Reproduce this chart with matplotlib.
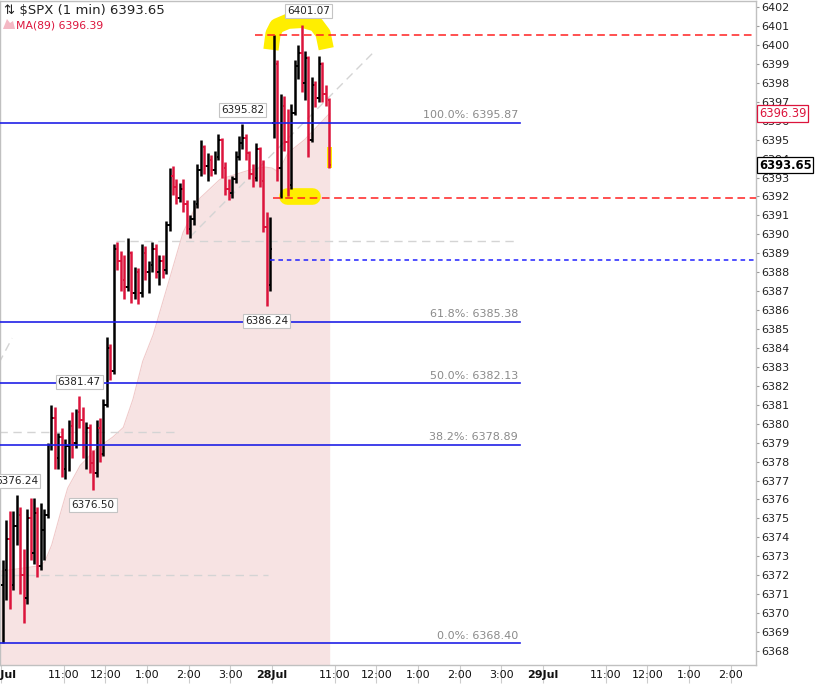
import matplotlib.pyplot as plt
import numpy as np
from matplotlib.patches import Polygon, Rectangle

# ---------------- data ----------------
# 25 Jul, 5-minute bars from the open
day1_open = [6371.5, 6372.3, 6373.9, 6371.5, 6374.6, 6375.2, 6372.0, 6370.8, 6375.0, 6373.2,
             6375.3, 6372.5, 6374.4, 6375.2, 6378.9, 6380.3, 6378.2, 6379.3, 6377.6, 6378.8,
             6379.9, 6379.0, 6380.6, 6380.2, 6378.9, 6379.8, 6377.9, 6377.4, 6379.8, 6378.4,
             6381.0, 6384.0, 6382.8, 6389.2, 6388.6, 6387.6, 6387.2, 6389.0, 6386.9, 6388.0,
             6386.9, 6389.0, 6388.0, 6388.4, 6389.2, 6388.0, 6388.6, 6388.1, 6390.5, 6393.1,
             6392.5, 6391.9, 6392.4, 6391.6, 6390.3, 6390.8, 6391.6, 6393.4, 6394.6, 6393.6,
             6393.9, 6393.4, 6394.1, 6395.0, 6393.5, 6392.4, 6392.2, 6392.9, 6394.1, 6394.8,
             6395.1, 6394.3, 6393.2, 6393.0, 6394.5, 6392.8, 6390.4, 6387.3]
day1_high = [6372.8, 6374.9, 6375.4, 6375.4, 6376.24, 6375.6, 6373.4, 6375.5, 6376.1, 6376.1,
             6375.6, 6375.8, 6375.5, 6379.0, 6381.0, 6380.9, 6379.5, 6379.8, 6379.2, 6380.2,
             6380.6, 6380.8, 6381.47, 6380.9, 6380.1, 6380.0, 6378.6, 6380.2, 6380.3, 6381.3,
             6384.6, 6384.2, 6389.5, 6389.6, 6389.1, 6388.9, 6389.8, 6389.1, 6388.3, 6388.2,
             6389.5, 6389.4, 6388.6, 6389.6, 6389.5, 6388.9, 6388.9, 6390.7, 6393.5, 6393.6,
             6392.9, 6392.7, 6392.9, 6391.8, 6391.0, 6391.8, 6393.7, 6395.0, 6394.7, 6394.3,
             6394.2, 6394.4, 6395.3, 6395.1, 6393.8, 6392.9, 6393.1, 6394.4, 6395.2, 6395.82,
             6395.3, 6394.4, 6393.7, 6394.8, 6394.6, 6393.9, 6391.2, 6390.9]
day1_low = [6368.4, 6370.7, 6370.2, 6371.2, 6373.6, 6371.0, 6369.5, 6370.5, 6372.8, 6372.6,
            6371.9, 6372.3, 6372.8, 6375.0, 6378.6, 6377.6, 6377.6, 6377.2, 6377.1, 6377.5,
            6378.2, 6378.7, 6379.8, 6378.2, 6377.6, 6377.4, 6376.5, 6377.2, 6378.0, 6378.3,
            6380.9, 6382.3, 6382.6, 6388.1, 6387.0, 6386.6, 6387.0, 6386.4, 6386.6, 6386.3,
            6386.7, 6387.6, 6386.9, 6388.0, 6387.7, 6387.3, 6387.7, 6387.9, 6390.2, 6392.1,
            6391.6, 6391.7, 6391.2, 6390.0, 6389.8, 6390.5, 6391.4, 6393.1, 6393.2, 6392.8,
            6393.1, 6393.2, 6393.9, 6393.0, 6392.1, 6391.8, 6391.9, 6392.7, 6393.9, 6394.5,
            6393.9, 6392.9, 6392.5, 6392.8, 6392.5, 6390.1, 6386.24, 6387.0]
day1_close = [6372.3, 6373.9, 6371.5, 6374.6, 6375.2, 6372.0, 6370.8, 6375.0, 6373.2, 6375.3,
              6372.5, 6374.4, 6375.2, 6378.9, 6380.3, 6378.2, 6379.3, 6377.6, 6378.8, 6379.9,
              6379.0, 6380.6, 6380.2, 6378.9, 6379.8, 6377.9, 6377.4, 6379.8, 6378.4, 6381.0,
              6384.0, 6382.8, 6389.2, 6388.6, 6387.6, 6387.2, 6389.0, 6386.9, 6388.0, 6386.9,
              6389.0, 6388.0, 6388.4, 6389.2, 6388.0, 6388.6, 6388.1, 6390.5, 6393.1, 6392.5,
              6391.9, 6392.4, 6391.6, 6390.3, 6390.8, 6391.6, 6393.4, 6394.6, 6393.6, 6393.9,
              6393.4, 6394.1, 6395.0, 6393.5, 6392.4, 6392.2, 6392.9, 6394.1, 6394.8, 6395.1,
              6394.3, 6393.2, 6393.0, 6394.5, 6392.8, 6390.4, 6387.3, 6389.2]

# 28 Jul, 5-minute bars from the open
day2_open = [6395.9, 6399.0, 6393.5, 6396.8, 6394.9, 6392.6, 6396.4, 6398.9, 6399.6, 6398.0,
             6399.3, 6395.0, 6397.9, 6397.2, 6399.0, 6397.4, 6397.1]
day2_high = [6400.55, 6399.2, 6397.4, 6397.3, 6396.6, 6396.9, 6399.2, 6400.0, 6401.07, 6399.7,
             6399.4, 6398.3, 6398.1, 6399.4, 6399.1, 6397.9, 6397.2]
day2_low = [6395.1, 6392.8, 6391.92, 6394.4, 6392.0, 6392.4, 6396.3, 6398.2, 6397.5, 6397.1,
            6394.1, 6394.9, 6396.7, 6397.0, 6397.0, 6396.8, 6393.5]
day2_close = [6399.0, 6393.5, 6396.8, 6394.9, 6392.6, 6396.4, 6398.9, 6399.6, 6398.0, 6399.3,
              6395.0, 6397.9, 6397.2, 6399.0, 6397.4, 6397.1, 6393.65]

# MA(89) curve, trading minute -> value
ma_t = [-3, 56, 63, 73, 85, 96, 114, 138, 161, 176, 190, 204, 219, 239, 262, 286,
        315, 358, 380, 390, 399, 413, 437, 473]
ma_val = [6372.2, 6372.5, 6372.7, 6373.6, 6375.2, 6376.6, 6377.8, 6378.7, 6379.3, 6379.8,
          6381.3, 6383.3, 6384.7, 6387.2, 6390.1, 6391.9, 6392.9, 6393.4, 6393.55, 6393.5,
          6393.3, 6394.3, 6395.0, 6396.39]

fib_levels = [6395.87, 6385.38, 6382.13, 6378.89, 6368.40]
fib_names = ['100.0%', '61.8%', '50.0%', '38.2%', '0.0%']

# x ticks in trading minutes (390 per session)
tick_t = [0, 90, 150, 210, 270, 330, 390, 480, 540, 600, 660, 720, 780, 870, 930, 990, 1050]
tick_labels = ['25Jul', '11:00', '12:00', '1:00', '2:00', '3:00', '28Jul', '11:00', '12:00',
               '1:00', '2:00', '3:00', '29Jul', '11:00', '12:00', '1:00', '2:00']

# marked highs / lows
mark_t = [442.5, 347.5, 382.5, 112.5, 22.5, 132.5]
mark_p = [6401.07, 6395.82, 6386.24, 6381.47, 6376.24, 6376.50]
mark_up = [True, True, False, True, True, False]

last_price = 6393.65
ma_last = 6396.39

# ---------------- figure ----------------
RED = '#dc143c'
BLUE = '#2020e6'
fig = plt.figure(figsize=(8.18, 6.87), dpi=100)
ax = fig.add_axes([0, 22 / 687, 756 / 818, 664 / 687])

xmin, xmax = -1.44, 1086.5
ymin, ymax = 6367.26, 6402.32
ax.set_xlim(xmin, xmax)
ax.set_ylim(ymin, ymax)

# MA area
ax.fill_between(ma_t, ma_val, ymin, color='#f7e3e3', lw=0, zorder=1)
ax.plot(ma_t, ma_val, color='#f0caca', lw=0.8, zorder=1.1)

# yellow highlights
ax.plot([388.5, 391.5, 397.0, 413.0, 434.6, 453.3, 463.5, 468.0],
        [6399.75, 6400.6, 6401.0, 6401.25, 6401.3, 6401.1, 6400.6, 6399.8],
        color='#ffee00', lw=11, solid_capstyle='butt', solid_joinstyle='round', zorder=1.5)
ax.plot([411, 447], [6392.05, 6392.05], color='#ffee00', lw=12,
        solid_capstyle='round', zorder=1.5)
ax.add_patch(Rectangle((469, 6393.5), 8, 1.1, color='#ffee00', lw=0, zorder=1.5))

# grey dashed drawings
grey = dict(color='#d4d4d4', lw=1, ls=(0, (6, 4)), zorder=2)
ax.plot([165, 740], [6389.65, 6389.65], **grey)
ax.plot([-3, 255], [6379.56, 6379.56], **grey)
ax.plot([-3, 384], [6372.0, 6372.0], **grey)
ax.plot([272, 535], [6389.86, 6399.57], **grey)
ax.plot([-3, 16], [6383.2, 6384.52], **grey)

# bars
o = np.array(day1_open + day2_open)
h = np.array(day1_high + day2_high)
l = np.array(day1_low + day2_low)
c = np.array(day1_close + day2_close)
t = np.concatenate([np.arange(len(day1_open)) * 5 + 2.5,
                    390 + np.arange(len(day2_open)) * 5 + 2.5])
cols = np.where(c >= o, 'black', RED)
ax.vlines(t, l, h, colors=cols, lw=1.8, zorder=3)
ax.hlines(o, t - 2.3, t, colors=cols, lw=1.4, zorder=3)
ax.hlines(c, t, t + 2.3, colors=cols, lw=1.4, zorder=3)

# fib lines
for lev, name in zip(fib_levels, fib_names):
    ax.plot([xmin, 747], [lev, lev], color=BLUE, lw=1.2, zorder=4)
    ax.annotate(f'{name}: {lev:.2f}', (744, lev), xytext=(0, 2), textcoords='offset points',
                ha='right', va='bottom', fontsize=8, color='#8a8a8a', zorder=5)

# red / blue dashed levels
ax.plot([365, xmax], [6400.55, 6400.55], color='#ff2020', lw=1.1, ls=(0, (5, 3)), zorder=4)
ax.plot([391, xmax], [6391.92, 6391.92], color='#ff2020', lw=1.1, ls=(0, (5, 3)), zorder=4)
ax.plot([387, xmax], [6388.64, 6388.64], color='#2020ff', lw=1.1, ls=(0, (3, 2.5)), zorder=4)

# high / low labels
for mt, mp, up in zip(mark_t, mark_p, mark_up):
    ax.annotate(f'{mp:.2f}', (mt, mp), xytext=(0, 10 if up else -11), textcoords='offset points',
                ha='center', va='center', fontsize=7.5, color='#222222', zorder=6,
                bbox=dict(boxstyle='square,pad=0.2', fc='white', ec='#c4c4c4', lw=0.8))

# axes styling
for s in ax.spines.values():
    s.set_color('#c0c0c0')
    s.set_linewidth(1)

ax.yaxis.tick_right()
ax.set_yticks(np.arange(6368, 6403, 1))
ax.set_yticklabels([str(v) for v in range(6368, 6403)])
ax.tick_params(axis='y', length=2.5, width=0.8, color='#999999', pad=1.5,
               labelsize=8, labelcolor='#222222')

ax.set_xticks(tick_t)
ax.set_xticklabels(tick_labels)
ax.tick_params(axis='x', length=13, width=0.8, color='#cccccc', pad=-9.5,
               labelsize=8, labelcolor='#111111')
for lab in ax.get_xticklabels():
    if 'Jul' in lab.get_text():
        lab.set_fontweight('bold')

# right-axis price boxes
ytr = ax.get_yaxis_transform()
ax.text(1.004, ma_last, f'{ma_last:.2f}', transform=ytr, ha='left', va='center', fontsize=8.3,
        color=RED, zorder=7, clip_on=False,
        bbox=dict(boxstyle='square,pad=0.15', fc='white', ec=RED, lw=0.9))
ax.text(1.004, last_price, f'{last_price:.2f}', transform=ytr, ha='left', va='center',
        fontsize=8.3, fontweight='bold', color='black', zorder=7, clip_on=False,
        bbox=dict(boxstyle='square,pad=0.15', fc='white', ec='black', lw=0.9))

# header
fig.text(4 / 818, 1 - 11 / 687, '\u21c5 \\$SPX (1 min) 6393.65', fontsize=9.5, color='#222222',
         ha='left', va='center')
fig.patches.append(Polygon([[3 / 818, 1 - 29 / 687], [7 / 818, 1 - 19 / 687],
                            [10 / 818, 1 - 23 / 687], [13 / 818, 1 - 21 / 687],
                            [15 / 818, 1 - 29 / 687]],
                           closed=True, fc='#f4b8c4', ec='none', transform=fig.transFigure,
                           figure=fig))
fig.text(16 / 818, 1 - 25 / 687, f'MA(89) {ma_last:.2f}', fontsize=7.8, color=RED,
         ha='left', va='center')

fig.savefig('out.png', dpi=100)
